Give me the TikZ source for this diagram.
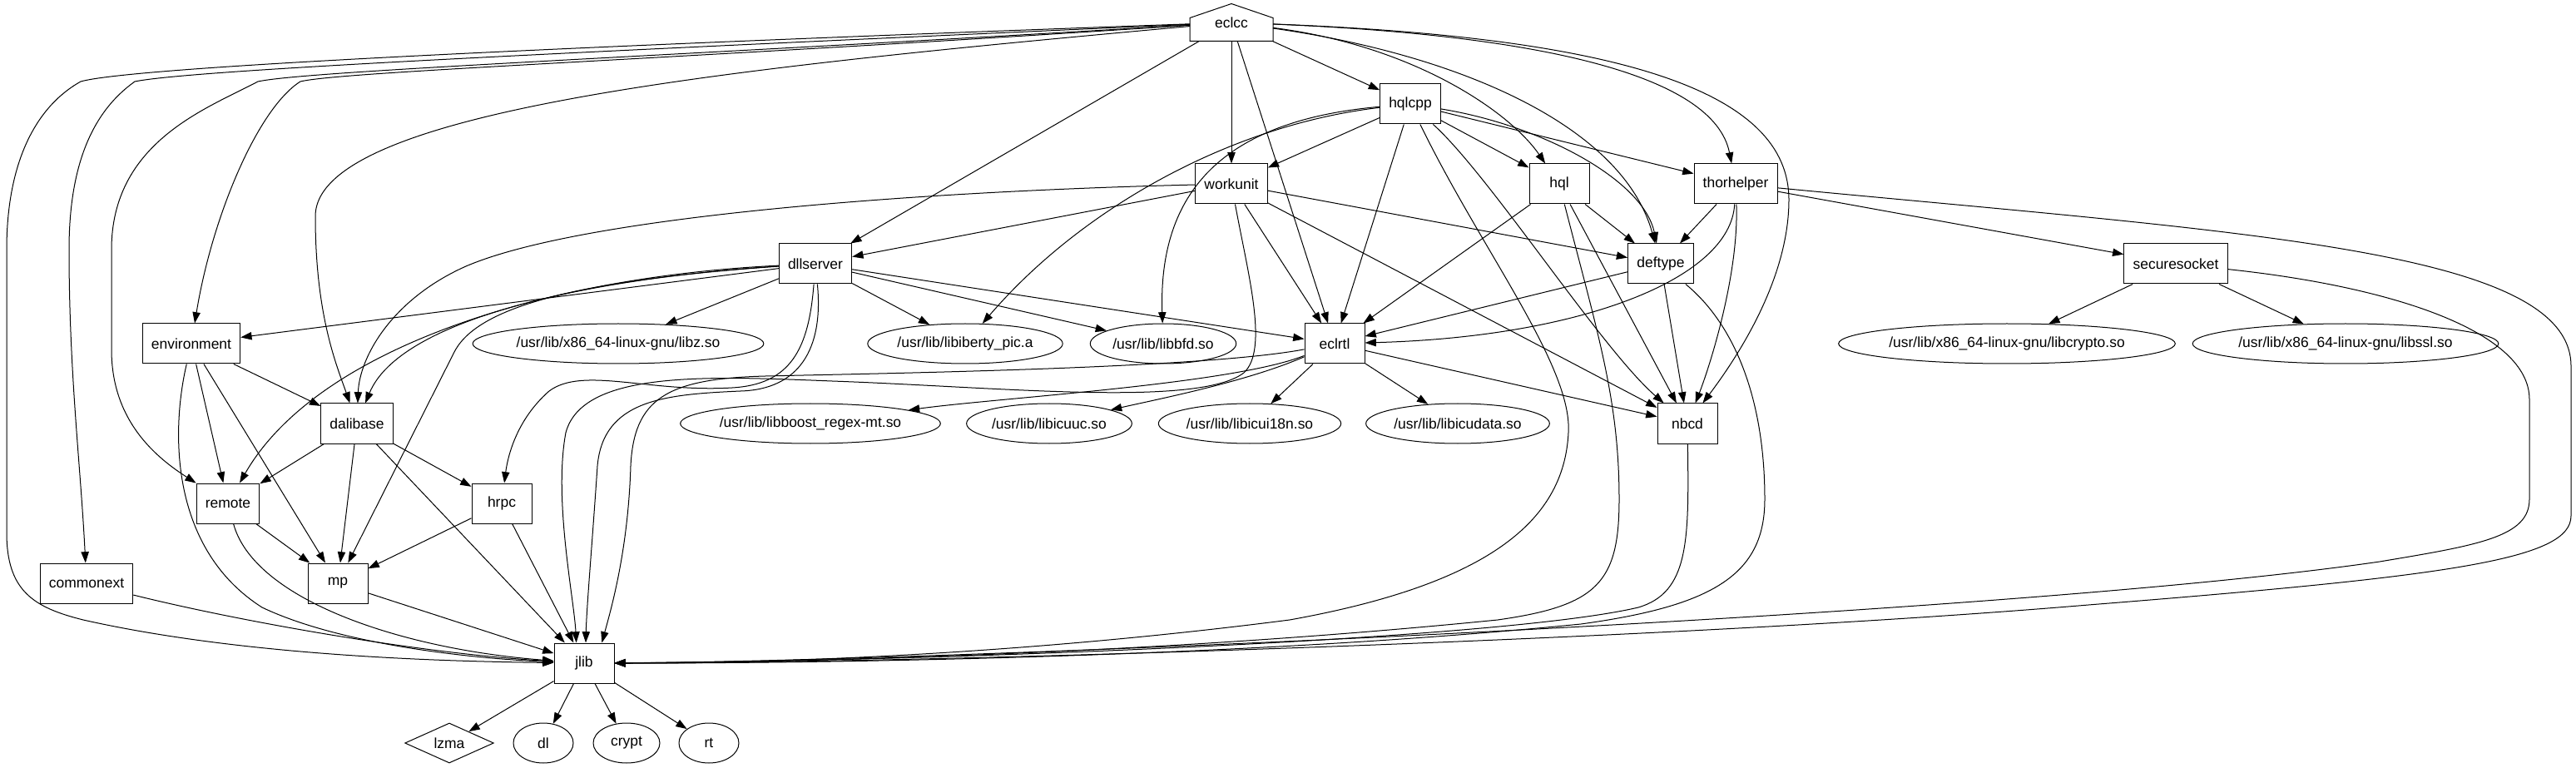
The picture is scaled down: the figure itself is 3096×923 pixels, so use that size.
\documentclass[tikz,border=0pt]{standalone}
\usepackage{fontspec}
\setmainfont{Liberation Sans}
\usetikzlibrary{shapes.geometric,arrows.meta}

\begin{document}
\begin{tikzpicture}[x=0.75pt, y=-0.75pt, line width=0.75pt,
  font=\fontsize{13.1pt}{15pt}\selectfont,
  mod/.style={draw, rectangle, minimum width=54pt, minimum height=36pt, inner xsep=8pt},
  lib/.style={draw, ellipse, minimum width=54pt, minimum height=36pt, inner xsep=1pt},
  dep/.style={-{Triangle[length=10pt, width=7pt]}}]
\useasboundingbox (0,0) rectangle (3096,923);
% Dependency graph of eclcc
\node[minimum width=74.25pt, minimum height=33pt, inner sep=0pt] (eclcc) at (1480,27) {eclcc};
\draw (eclcc.south west) -- ([yshift=-12.75pt]eclcc.north west) -- (eclcc.north)
  -- ([yshift=-12.75pt]eclcc.north east) -- (eclcc.south east) -- cycle;
\node[mod] (hqlcpp) at (1695,125) {hqlcpp};
\node[mod] (workunit) at (1480,221) {workunit};
\node[mod] (hql) at (1874,221) {hql};
\node[mod] (thorhelper) at (2086,221) {thorhelper};
\node[mod] (dllserver) at (980,317) {dllserver};
\node[mod] (deftype) at (1996,317) {deftype};
\node[mod] (securesocket) at (2615,317) {securesocket};
\node[mod] (environment) at (230,413) {environment};
\node[lib] (libz) at (743,413) {/usr/lib/x86\_64-linux-gnu/libz.so};
\node[lib] (libiberty) at (1160,413) {/usr/lib/libiberty\_pic.a};
\node[lib] (libbfd) at (1398,413) {/usr/lib/libbfd.so};
\node[mod] (eclrtl) at (1604,413) {eclrtl};
\node[lib] (libcrypto) at (2412,413) {/usr/lib/x86\_64-linux-gnu/libcrypto.so};
\node[lib] (libssl) at (2819,413) {/usr/lib/x86\_64-linux-gnu/libssl.so};
\node[mod] (dalibase) at (429,509) {dalibase};
\node[lib] (libboost) at (974,509) {/usr/lib/libboost\_regex-mt.so};
\node[lib] (libicuuc) at (1261,509) {/usr/lib/libicuuc.so};
\node[lib] (libicui18n) at (1502,509) {/usr/lib/libicui18n.so};
\node[lib] (libicudata) at (1752,509) {/usr/lib/libicudata.so};
\node[mod] (nbcd) at (2028,509) {nbcd};
\node[mod] (remote) at (274,605) {remote};
\node[mod] (hrpc) at (603,605) {hrpc};
\node[mod] (commonext) at (104,701) {commonext};
\node[mod] (mp) at (406,701) {mp};
\node[mod] (jlib) at (702,797) {jlib};
\node[draw, diamond, aspect=2.2, inner sep=0pt, minimum width=80pt, minimum height=36pt] (lzma) at (540,893) {lzma};
\node[lib] (dl) at (653,893) {dl};
\node[lib, minimum width=60pt] (crypt) at (753,893) {crypt};
\node[lib] (rt) at (852,893) {rt};

% eclcc
\draw[dep] (eclcc) .. controls (700,55) and (160,80) .. (97,98) .. controls (40,130) and (8,200) .. (8,300)
  -- (8,640) .. controls (8,710) and (40,730) .. (100,745) .. controls (300,790) and (550,795) .. (jlib);
\draw[dep] (eclcc) .. controls (700,62) and (230,84) .. (162,98) .. controls (110,135) and (83,200) .. (83,300)
  .. controls (83,450) and (97,560) .. (commonext);
\draw[dep] (eclcc) .. controls (800,68) and (370,85) .. (310,98) .. controls (250,130) and (134,170) .. (134,300)
  -- (134,420) .. controls (134,500) and (180,545) .. (remote);
\draw[dep] (eclcc) .. controls (800,72) and (410,86) .. (361,98) .. controls (310,130) and (255,260) .. (environment);
\draw[dep] (eclcc) .. controls (900,80) and (379,130) .. (379,260) .. controls (379,380) and (405,440) .. (dalibase);
\draw[dep] (eclcc) -- (dllserver);
\draw[dep] (eclcc) -- (workunit);
\draw[dep] (eclcc) -- (eclrtl);
\draw[dep] (eclcc) -- (hqlcpp);
\draw[dep] (eclcc) .. controls (1700,55) and (1815,135) .. (hql);
\draw[dep] (eclcc) .. controls (1750,65) and (1950,150) .. (deftype);
\draw[dep] (eclcc) .. controls (1850,42) and (2060,90) .. (thorhelper);
\draw[dep] (eclcc) .. controls (1950,45) and (2150,110) .. (2150,240) .. controls (2150,330) and (2095,420) .. (nbcd);

% hqlcpp
\draw[dep] (hqlcpp) -- (workunit);
\draw[dep] (hqlcpp) -- (hql);
\draw[dep] (hqlcpp) -- (thorhelper);
\draw[dep] (hqlcpp) -- (eclrtl);
\draw[dep] (hqlcpp) .. controls (1850,150) and (1975,215) .. (deftype);
\draw[dep] (hqlcpp) .. controls (1790,210) and (1925,420) .. (nbcd);
\draw[dep] (hqlcpp) .. controls (1780,300) and (1890,440) .. (1885,520) .. controls (1880,620) and (1800,700) .. (1550,745)
  .. controls (1200,790) and (900,797) .. (jlib);
\draw[dep] (hqlcpp) .. controls (1480,150) and (1300,250) .. (libiberty);
\draw[dep] (hqlcpp) .. controls (1470,145) and (1392,230) .. (libbfd);

% workunit
\draw[dep] (workunit) -- (dllserver);
\draw[dep] (workunit) -- (deftype);
\draw[dep] (workunit) -- (nbcd);
\draw[dep] (workunit) -- (eclrtl);
\draw[dep] (workunit) .. controls (1100,230) and (700,260) .. (560,320) .. controls (470,360) and (432,430) .. (dalibase);
\draw[dep] (workunit) .. controls (1500,330) and (1525,420) .. (1495,448) .. controls (1440,490) and (1200,465) .. (1000,458)
  .. controls (850,452) and (700,445) .. (680,520) .. controls (665,600) and (690,720) .. ([xshift=-7pt]jlib.north);

% dllserver
\draw[dep] (dllserver) -- (environment);
\draw[dep] (dllserver) -- (libz);
\draw[dep] (dllserver) -- (libiberty);
\draw[dep] (dllserver) -- (libbfd);
\draw[dep] (dllserver) -- (eclrtl);
\draw[dep] (dllserver) .. controls (700,335) and (480,385) .. (dalibase);
\draw[dep] (dllserver) .. controls (650,333) and (380,420) .. (remote);
\draw[dep] (dllserver) .. controls (680,338) and (570,372) .. (545,425) -- (mp);
\draw[dep] (dllserver) .. controls (972,420) and (950,462) .. (880,466) .. controls (780,472) and (700,440) .. (660,470)
  .. controls (620,505) and (610,550) .. (hrpc);
\draw[dep] (dllserver) .. controls (990,420) and (960,468) .. (890,470) .. controls (800,474) and (725,480) .. (718,560)
  .. controls (712,650) and (705,730) .. ([xshift=1.5pt]jlib.north);

% eclrtl
\draw[dep] (eclrtl) .. controls (1480,462) and (1200,478) .. (libboost);
\draw[dep] (eclrtl) .. controls (1500,458) and (1400,478) .. (libicuuc);
\draw[dep] (eclrtl) -- (libicui18n);
\draw[dep] (eclrtl) -- (libicudata);
\draw[dep] (eclrtl) -- (nbcd);
\draw[dep] (eclrtl) .. controls (1450,442) and (1100,448) .. (920,452) .. controls (800,455) and (762,480) .. (758,560)
  .. controls (755,660) and (735,730) .. ([xshift=16pt]jlib.north);

% environment, dalibase, remote, hrpc, mp
\draw[dep] (environment) -- (dalibase);
\draw[dep] (environment) -- (remote);
\draw[dep] (environment) -- (mp);
\draw[dep] (environment) .. controls (205,520) and (205,660) .. (315,730) .. controls (420,780) and (600,793) .. (jlib);
\draw[dep] (dalibase) -- (remote);
\draw[dep] (dalibase) -- (hrpc);
\draw[dep] (dalibase) -- (mp);
\draw[dep] (dalibase) -- (jlib);
\draw[dep] (remote) -- (mp);
\draw[dep] (remote) .. controls (305,720) and (480,780) .. (jlib);
\draw[dep] (hrpc) -- (mp);
\draw[dep] (hrpc) -- (jlib);
\draw[dep] (mp) -- (jlib);
\draw[dep] (commonext) .. controls (280,745) and (500,785) .. (jlib);

% hql, thorhelper, deftype, securesocket, nbcd
\draw[dep] (hql) -- (deftype);
\draw[dep] (hql) -- (eclrtl);
\draw[dep] (hql) -- (nbcd);
\draw[dep] (hql) .. controls (1920,400) and (1946,480) .. (1946,600) .. controls (1946,700) and (1920,728) .. (1800,745)
  .. controls (1400,785) and (1000,795) .. (jlib);
\draw[dep] (thorhelper) -- (deftype);
\draw[dep] (thorhelper) -- (securesocket);
\draw[dep] (thorhelper) .. controls (2080,335) and (1900,405) .. (eclrtl);
\draw[dep] (thorhelper) .. controls (2090,330) and (2055,440) .. (nbcd);
\draw[dep] (thorhelper) .. controls (2700,280) and (3090,300) .. (3090,440) -- (3090,620)
  .. controls (3090,672) and (2950,692) .. (2510,727) .. controls (2000,770) and (1100,797) .. (jlib);
\draw[dep] (securesocket) -- (libcrypto);
\draw[dep] (securesocket) -- (libssl);
\draw[dep] (securesocket) .. controls (2880,345) and (3040,400) .. (3040,480) -- (3040,600)
  .. controls (3040,645) and (2980,655) .. (2860,675) .. controls (2400,742) and (1100,795) .. (jlib);
\draw[dep] (deftype) -- (eclrtl);
\draw[dep] (deftype) -- (nbcd);
\draw[dep] (deftype) .. controls (2085,390) and (2121,480) .. (2121,600) .. controls (2121,690) and (2060,728) .. (1900,750)
  .. controls (1500,790) and (1000,797) .. (jlib);
\draw[dep] (nbcd) .. controls (2030,650) and (2030,712) .. (1969,730) .. controls (1800,770) and (1100,795) .. (jlib);

% jlib
\draw[dep] (jlib) -- (lzma);
\draw[dep] (jlib) -- (dl);
\draw[dep] (jlib) -- (crypt);
\draw[dep] (jlib) -- (rt);
\end{tikzpicture}
\end{document}
